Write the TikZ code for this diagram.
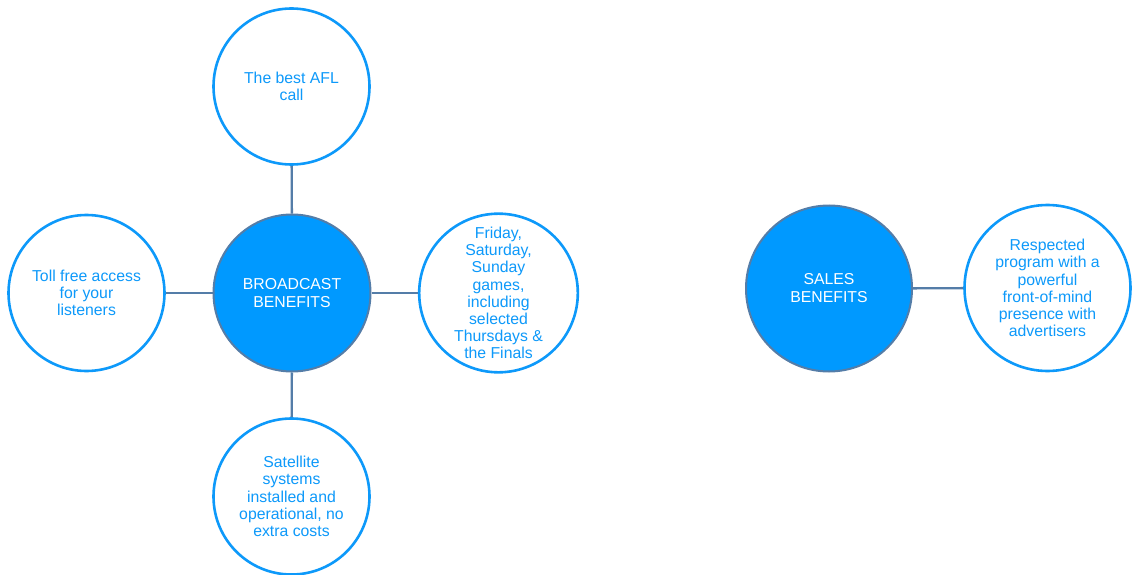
\documentclass[tikz,border=0pt]{standalone}
\usepackage{fontspec}
\setmainfont{Liberation Sans}
\definecolor{hubfill}{rgb}{0.0, 0.6, 1.0}
\definecolor{hubline}{rgb}{0.33, 0.49, 0.66}
\definecolor{leafline}{rgb}{0.05, 0.6, 0.98}
\tikzset{
  hub/.style={circle, draw=hubline, line width=2pt, fill=hubfill, text=white,
    minimum size=157pt, inner sep=0pt, align=center, font=\fontsize{15.8}{18}\selectfont},
  leaf/.style={circle, draw=leafline, line width=2.6pt, fill=white, text=leafline,
    minimum size=156pt, inner sep=0pt, align=center, font=\fontsize{15.8}{17.2}\selectfont},
  link/.style={draw=hubline, line width=2.4pt}
}
\begin{document}
\begin{tikzpicture}[x=1pt, y=-1pt]
		\useasboundingbox (0,0) rectangle (1133,575);

		% broadcast
		\node[hub] (broadcast) at (292,293) {BROADCAST\\BENEFITS};
		\node[leaf] (call) at (291.5,86.5) {The best AFL\\call};
		\node[leaf] (access) at (86.5,293) {Toll free access\\for your\\listeners};
		\node[leaf] (games) at (498.5,293) {Friday,\\Saturday,\\Sunday\\games,\\including\\selected\\Thursdays \&\\the Finals};
		\node[leaf] (satellite) at (291.5,496.5) {Satellite\\systems\\installed and\\operational, no\\extra costs};

		\draw[link] (broadcast) -- (call);
		\draw[link] (broadcast) -- (access);
		\draw[link] (broadcast) -- (games);
		\draw[link] (broadcast) -- (satellite);

		% sales
		\node[hub, minimum size=166pt] (sales) at (829,288.5) {SALES\\BENEFITS};
		\node[leaf, minimum size=166pt] (program) at (1047.5,288) {Respected\\program with a\\powerful\\front-of-mind\\presence with\\advertisers};

		\draw[link] (sales) -- (program);
	\end{tikzpicture}
\end{document}
